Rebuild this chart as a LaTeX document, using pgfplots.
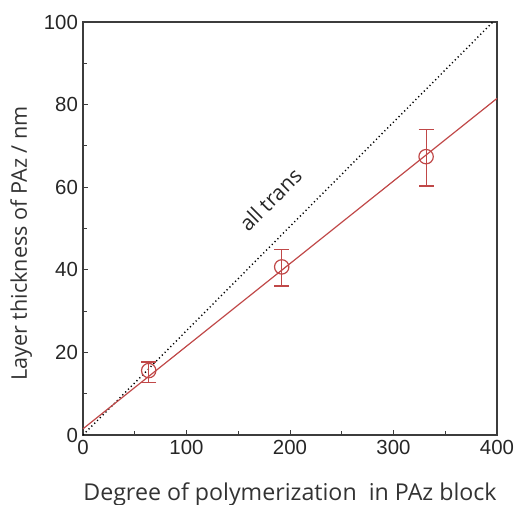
\documentclass[border=0pt]{standalone}
\usepackage{fontspec}
\setmainfont{Liberation Sans}
\newfontfamily\labelfont{Open Sans}
\usepackage{pgfplots}
\pgfplotsset{compat=1.18}
\definecolor{fitred}{RGB}{192,72,72}
\definecolor{axisgray}{RGB}{60,60,60}

\begin{document}
\begin{tikzpicture}
  % page frame: 517 x 504 px at 0.5 pt per px, axis box at (0,0)
  \useasboundingbox (-41.5pt,-34.5pt) rectangle (217pt,217.5pt);
  \begin{axis}[
      at={(0,0)},
      anchor=south west,
      scale only axis,
      width=207pt,
      height=206.5pt,
      xmin=0, xmax=400,
      ymin=0, ymax=100,
      xtick={0,100,200,300,400},
      ytick={0,20,40,60,80,100},
      minor x tick num=1,
      minor y tick num=1,
      tick align=inside,
      tick pos=left,
      major tick length=2.5pt,
      minor tick length=2pt,
      axis line style={axisgray, line width=0.6pt},
      tick style={axisgray, line width=0.5pt},
      /pgf/number format/assume math mode=true,
      tick label style={font=\fontsize{10.2}{11}\selectfont, text=black!85},
      xticklabel style={yshift=1pt},
      yticklabel style={xshift=1pt},
      xlabel={Degree of polymerization\ \ in PAz block},
      ylabel={Layer thickness of PAz / nm},
      xlabel style={font=\labelfont\fontsize{11.6}{13}\selectfont, text=black!80, yshift=-7pt},
      ylabel style={font=\labelfont\fontsize{10.8}{12}\selectfont, text=black!80, xshift=-7.5pt, yshift=-1pt},
      clip=false,
    ]

    % all trans reference
    \addplot[black, line width=0.7pt, dash pattern=on 0.6pt off 1.4pt]
      coordinates {(0,0) (396,100)};

    % linear fit
    \addplot[fitred, line width=0.6pt]
      coordinates {(0,1.5) (400,81.5)};

    % measured thickness with error bars
    \addplot[
      only marks,
      fitred,
      mark=o,
      mark size=3.6pt,
      mark options={line width=0.6pt},
      error bars/.cd,
        y dir=both,
        y explicit,
        error bar style={line width=0.6pt, fitred},
        error mark options={rotate=90, mark size=3.7pt, line width=0.6pt, fitred},
    ]
    coordinates {
      (63.5,15.6) -= (0,2.8) += (0,2.1)
      (192,40.7) -= (0,4.6) += (0,4.3)
      (331.5,67.4) -= (0,7.1) += (0,6.6)
    };

    \node[font=\labelfont\fontsize{10.5}{12}\selectfont, text=black!85, rotate=45]
      at (axis cs:181,57) {all trans};
  \end{axis}
\end{tikzpicture}
\end{document}
